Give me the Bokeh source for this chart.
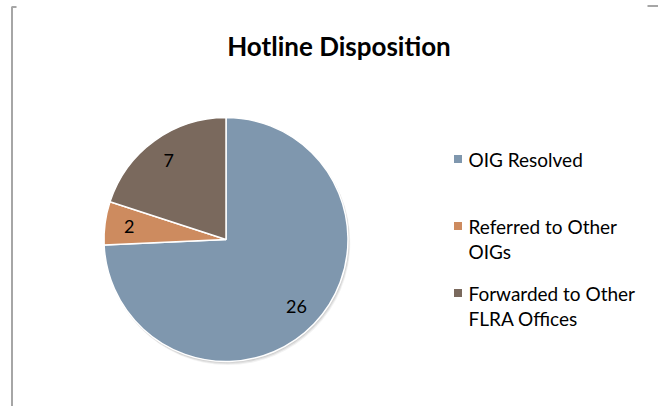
import math
from bokeh.plotting import figure
from bokeh.models import Range1d, ColumnDataSource
from bokeh.core.properties import value
from bokeh.embed import file_html
from bokeh.resources import INLINE

# ---- data ----
title = "Hotline Disposition"
categories = ["OIG Resolved", "Referred to Other OIGs", "Forwarded to Other FLRA Offices"]
legend_lines = [["OIG Resolved"], ["Referred to Other", "OIGs"], ["Forwarded to Other", "FLRA Offices"]]
counts = [26, 2, 7]
colors = ["#7F97AE", "#CD8B5F", "#7A695D"]

W, H = 658, 406
FONT = "Lato"

p = figure(width=W, height=H, x_range=Range1d(0, W), y_range=Range1d(0, H),
           output_backend="svg", toolbar_location=None, min_border=0,
           background_fill_color="white", border_fill_color="white")
p.axis.visible = False
p.grid.visible = False
p.outline_line_color = None

def Y(img_y):
    return H - img_y

# frame fragments
p.segment(x0=[11.5], y0=[Y(6)], x1=[11.5], y1=[0], line_color="#A6A6A6", line_width=2)
p.segment(x0=[11.5], y0=[Y(6.5)], x1=[16], y1=[Y(6.5)], line_color="#A6A6A6", line_width=2)
p.segment(x0=[647], y0=[Y(5.5)], x1=[658], y1=[Y(5.5)], line_color="#A6A6A6", line_width=2)

cx, cy, r = 225.5, Y(239), 122.0
total = sum(counts)
starts, ends, mids = [], [], []
cum = 0
for c in counts:
    a0 = math.pi / 2 - 2 * math.pi * cum / total
    cum += c
    a1 = math.pi / 2 - 2 * math.pi * cum / total
    starts.append(a0)
    ends.append(a1)
    mids.append((a0 + a1) / 2)

# soft shadow
for off, alpha in [(3.0, 0.05), (2.0, 0.07), (1.0, 0.08)]:
    p.circle(x=[cx + off * 0.6], y=[cy - off], radius=r + 0.5, fill_color="black",
             fill_alpha=alpha, line_color=None)

src = ColumnDataSource(dict(start=starts, end=ends, color=colors, cat=categories))
p.wedge(x=cx, y=cy, radius=r, start_angle="start", end_angle="end", direction="clock",
        fill_color="color", line_color="white", line_width=1.5, source=src)

# data labels
lr = 0.8 * r
p.text(x=[cx + lr * math.cos(m) for m in mids], y=[cy + lr * math.sin(m) for m in mids],
       text=[str(c) for c in counts], text_font=value(FONT), text_font_size="18px",
       text_align="center", text_baseline="middle", text_color="black")

# title
p.text(x=[338.5], y=[Y(45.5)], text=[title], text_font=value(FONT), text_font_size="26px",
       text_font_style="bold", text_align="center", text_baseline="middle", text_color="black")

# legend
lx, ly0, step, lh = 457.5, Y(158.5), 67.0, 25.5
mx, my, tx, ty, tt = [], [], [], [], []
for i, lines in enumerate(legend_lines):
    y = ly0 - step * i
    mx.append(lx)
    my.append(y)
    for j, t in enumerate(lines):
        tx.append(lx + 10.5)
        ty.append(y - lh * j)
        tt.append(t)
p.scatter(x=mx, y=my, marker="square", size=8, fill_color=colors, line_color=None)
p.text(x=tx, y=ty, text=tt, text_font=value(FONT), text_font_size="19px",
       text_align="left", text_baseline="middle", text_color="black")

open("out.html", "w").write(file_html(p, INLINE))
